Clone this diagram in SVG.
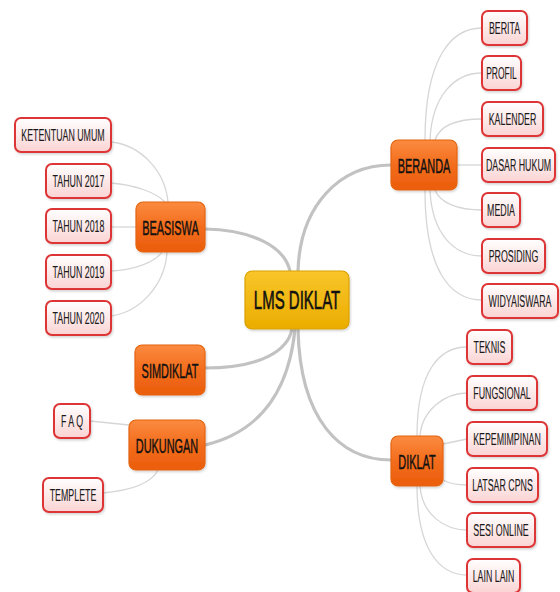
<svg xmlns="http://www.w3.org/2000/svg" width="560" height="592" viewBox="0 0 560 592">
<defs>
<linearGradient id="gOr" x1="0" y1="0" x2="0" y2="1"><stop offset="0" stop-color="#fb8b40"/><stop offset="0.5" stop-color="#f36c1c"/><stop offset="1" stop-color="#ea5d0c"/></linearGradient>
<linearGradient id="gGold" x1="0" y1="0" x2="0" y2="1"><stop offset="0" stop-color="#f8c52a"/><stop offset="1" stop-color="#ebad00"/></linearGradient>
<linearGradient id="gPk" x1="0" y1="0" x2="0" y2="1"><stop offset="0" stop-color="#ffffff"/><stop offset="1" stop-color="#fbd3d3"/></linearGradient>
<filter id="sh" x="-10%" y="-10%" width="130%" height="140%"><feDropShadow dx="1" dy="1.5" stdDeviation="1" flood-color="#000" flood-opacity="0.18"/></filter>
</defs>
<style>
.main{fill:url(#gOr);stroke:#e5640f;stroke-width:1.2;filter:url(#sh)}
.ctr{fill:url(#gGold);stroke:#d9a100;stroke-width:1.2;filter:url(#sh)}
.ch{fill:url(#gPk);stroke:#dd3535;stroke-width:2;filter:url(#sh)}
.tm{font-family:"Liberation Sans",Arial,sans-serif;font-size:21px;fill:#111;stroke:#111;stroke-width:0.45;text-anchor:middle}
.tc{font-family:"Liberation Sans",Arial,sans-serif;font-size:17px;fill:#1a1a1a;stroke:#1a1a1a;stroke-width:0.12;text-anchor:middle}
.tl{font-family:"Liberation Sans",Arial,sans-serif;font-size:25px;fill:#111;stroke:#111;stroke-width:0.6;text-anchor:middle}
.big{fill:none;stroke:#c2c2c2;stroke-width:3.2;stroke-linecap:round}
.thin{fill:none;stroke:#d6d6d6;stroke-width:1.3}
</style>
<rect width="560" height="592" fill="#ffffff"/>
<g id="connectors">
<path class="big" d="M298,271 C300,205 340,165 391,165"/>
<path class="big" d="M205,229 C250,230 284,245 290,271"/>
<path class="big" d="M205,368 C262,368 288,350 292,329"/>
<path class="big" d="M205,445 C268,430 290,380 295,329"/>
<path class="big" d="M298,329 C300,420 340,460 391,460"/>
<path class="thin" d="M425,140 C425,60 450,28 482,28"/>
<path class="thin" d="M430,140 C432,95 455,73 482,73"/>
<path class="thin" d="M435,140 C440,125 458,119 482,119"/>
<path class="thin" d="M457,165 L482,165"/>
<path class="thin" d="M435,190 C440,203 458,210 482,210"/>
<path class="thin" d="M430,190 C432,235 455,256 482,256"/>
<path class="thin" d="M425,190 C425,270 450,300 482,300"/>
<path class="thin" d="M417,436 C417,370 440,347 467,347"/>
<path class="thin" d="M420,436 C422,410 445,393 467,393"/>
<path class="thin" d="M443,444 L467,439"/>
<path class="thin" d="M443,480 C450,484 458,485 467,485"/>
<path class="thin" d="M420,486 C422,515 445,530 467,530"/>
<path class="thin" d="M417,486 C417,550 440,575 467,575"/>
<path class="thin" d="M111,142 C140,145 165,170 168,202"/>
<path class="thin" d="M111,183 C135,185 155,192 165,202"/>
<path class="thin" d="M111,227 L136,227"/>
<path class="thin" d="M111,271 C135,270 155,262 162,252"/>
<path class="thin" d="M111,316 C140,312 165,285 167,252"/>
<path class="thin" d="M90,421 L129,425"/>
<path class="thin" d="M103,493 C135,490 152,482 158,470"/>
</g>
<g id="lms"><rect class="ctr" x="245" y="271" width="104" height="58" rx="7"/><text class="tl" transform="translate(297,309) scale(0.6,1)">LMS DIKLAT</text></g>
<g id="beranda"><rect class="main" x="391" y="140" width="66" height="50" rx="7"/><text class="tm" transform="translate(424,172.5) scale(0.52,1)">BERANDA</text></g>
<g id="diklat"><rect class="main" x="391" y="436" width="52" height="50" rx="7"/><text class="tm" transform="translate(417,468.5) scale(0.52,1)">DIKLAT</text></g>
<g id="beasiswa"><rect class="main" x="136" y="202" width="69" height="50" rx="7"/><text class="tm" transform="translate(170.5,234.5) scale(0.52,1)">BEASISWA</text></g>
<g id="simdiklat"><rect class="main" x="135" y="345" width="70" height="50" rx="7"/><text class="tm" transform="translate(170,377.5) scale(0.52,1)">SIMDIKLAT</text></g>
<g id="dukungan"><rect class="main" x="129" y="420" width="76" height="50" rx="7"/><text class="tm" transform="translate(167,452.5) scale(0.52,1)">DUKUNGAN</text></g>
<g id="berita"><rect class="ch" x="482" y="11" width="45" height="34" rx="6"/><text class="tc" transform="translate(504.5,34) scale(0.52,1)">BERITA</text></g>
<g id="profil"><rect class="ch" x="482" y="56" width="39" height="34" rx="6"/><text class="tc" transform="translate(501.5,79) scale(0.5,1)">PROFIL</text></g>
<g id="kalender"><rect class="ch" x="482" y="102" width="61" height="34" rx="6"/><text class="tc" transform="translate(512.5,125) scale(0.52,1)">KALENDER</text></g>
<g id="dasarhukum"><rect class="ch" x="482" y="148" width="73" height="34" rx="6"/><text class="tc" transform="translate(518.5,171) scale(0.52,1)">DASAR HUKUM</text></g>
<g id="media"><rect class="ch" x="482" y="193" width="38" height="34" rx="6"/><text class="tc" transform="translate(501,216) scale(0.52,1)">MEDIA</text></g>
<g id="prosiding"><rect class="ch" x="482" y="239" width="63" height="34" rx="6"/><text class="tc" transform="translate(513.5,262) scale(0.52,1)">PROSIDING</text></g>
<g id="widyaiswara"><rect class="ch" x="482" y="284" width="76" height="34" rx="6"/><text class="tc" transform="translate(520,307) scale(0.52,1)">WIDYAISWARA</text></g>
<g id="teknis"><rect class="ch" x="467" y="330" width="45" height="34" rx="6"/><text class="tc" transform="translate(489.5,353) scale(0.52,1)">TEKNIS</text></g>
<g id="fungsional"><rect class="ch" x="467" y="376" width="70" height="34" rx="6"/><text class="tc" transform="translate(502,399) scale(0.52,1)">FUNGSIONAL</text></g>
<g id="kepemimpinan"><rect class="ch" x="467" y="422" width="80" height="34" rx="6"/><text class="tc" transform="translate(507,445) scale(0.52,1)">KEPEMIMPINAN</text></g>
<g id="latsar"><rect class="ch" x="467" y="468" width="71" height="34" rx="6"/><text class="tc" transform="translate(502.5,491) scale(0.52,1)">LATSAR CPNS</text></g>
<g id="sesionline"><rect class="ch" x="467" y="513" width="68" height="34" rx="6"/><text class="tc" transform="translate(501,536) scale(0.52,1)">SESI ONLINE</text></g>
<g id="lainlain"><rect class="ch" x="467" y="559" width="53" height="34" rx="6"/><text class="tc" transform="translate(493.5,582) scale(0.52,1)">LAIN LAIN</text></g>
<g id="ketentuan"><rect class="ch" x="15" y="118" width="96" height="34" rx="6"/><text class="tc" transform="translate(63,141) scale(0.52,1)">KETENTUAN UMUM</text></g>
<g id="t2017"><rect class="ch" x="46" y="164" width="65" height="34" rx="6"/><text class="tc" transform="translate(78.5,187) scale(0.52,1)">TAHUN 2017</text></g>
<g id="t2018"><rect class="ch" x="46" y="209" width="65" height="34" rx="6"/><text class="tc" transform="translate(78.5,232) scale(0.52,1)">TAHUN 2018</text></g>
<g id="t2019"><rect class="ch" x="46" y="255" width="65" height="34" rx="6"/><text class="tc" transform="translate(78.5,278) scale(0.52,1)">TAHUN 2019</text></g>
<g id="t2020"><rect class="ch" x="46" y="301" width="65" height="34" rx="6"/><text class="tc" transform="translate(78.5,324) scale(0.52,1)">TAHUN 2020</text></g>
<g id="faq"><rect class="ch" x="54" y="404" width="36" height="34" rx="6"/><text class="tc" transform="translate(72,427) scale(0.52,1)">F A Q</text></g>
<g id="templete"><rect class="ch" x="43" y="478" width="60" height="34" rx="6"/><text class="tc" transform="translate(73,501) scale(0.52,1)">TEMPLETE</text></g>
</svg>
